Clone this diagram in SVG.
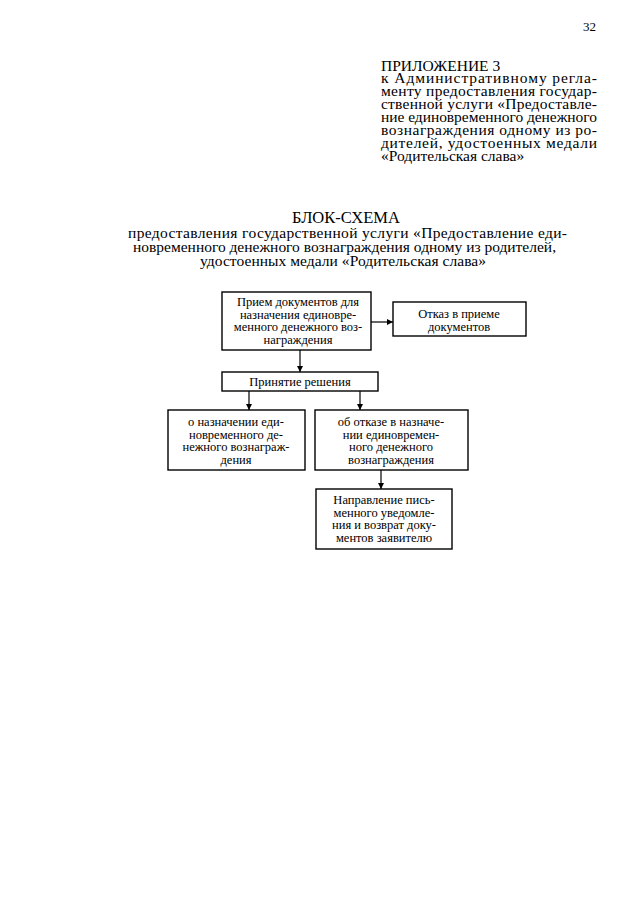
<svg xmlns="http://www.w3.org/2000/svg" width="640" height="905" viewBox="0 0 640 905">
<defs>
<marker id="ah" viewBox="0 0 10 10" refX="10" refY="5" markerWidth="6" markerHeight="6" orient="auto" markerUnits="userSpaceOnUse">
<path d="M0,0 L10,5 L0,10 z" fill="#000"/>
</marker>
<style>
text{font-family:"Liberation Serif","Times New Roman",serif;fill:#000}
.hd{font-size:15.5px}
.ttl{font-size:15.5px}
.bx{font-size:12.5px;text-anchor:middle}
.box{fill:#fff;stroke:#000;stroke-width:1.4}
.ln{stroke:#000;stroke-width:1.2;fill:none}
</style>
</defs>
<rect width="640" height="905" fill="#fff"/>
<text x="596" y="31" text-anchor="end" style="font-size:13px">32</text>
<g id="header">
<text x="381" y="71" style="font-size:15.5px">ПРИЛОЖЕНИЕ 3</text>
<text x="381" y="83" class="hd" textLength="216" lengthAdjust="spacing">к Административному регла-</text>
<text x="381" y="96" class="hd" textLength="216" lengthAdjust="spacing">менту предоставления государ-</text>
<text x="381" y="109" class="hd" textLength="216" lengthAdjust="spacing">ственной услуги «Предоставле-</text>
<text x="381" y="122" class="hd" textLength="216" lengthAdjust="spacing">ние единовременного денежного</text>
<text x="381" y="135" class="hd" textLength="216" lengthAdjust="spacing">вознаграждения одному из ро-</text>
<text x="381" y="148" class="hd" textLength="216" lengthAdjust="spacing">дителей, удостоенных медали</text>
<text x="381" y="161" class="hd">«Родительская слава»</text>
</g>
<g id="title">
<text x="346" y="223" text-anchor="middle" style="font-size:16.5px">БЛОК-СХЕМА</text>
<text x="128" y="238" class="ttl" textLength="439" lengthAdjust="spacing">предоставления государственной услуги «Предоставление еди-</text>
<text x="133" y="252" class="ttl" textLength="423" lengthAdjust="spacing">новременного денежного вознаграждения одному из родителей,</text>
<text x="200" y="266" class="ttl" textLength="286" lengthAdjust="spacing">удостоенных медали «Родительская слава»</text>
</g>
<g id="connectors">
<line class="ln" x1="371" y1="322" x2="393" y2="322" marker-end="url(#ah)"/>
<line class="ln" x1="300" y1="350" x2="300" y2="372" marker-end="url(#ah)"/>
<line class="ln" x1="249" y1="391" x2="249" y2="410" marker-end="url(#ah)"/>
<line class="ln" x1="360" y1="391" x2="360" y2="410" marker-end="url(#ah)"/>
<line class="ln" x1="381" y1="470" x2="381" y2="489" marker-end="url(#ah)"/>
</g>
<g id="n1">
<rect class="box" x="222" y="292" width="149" height="58"/>
<text class="bx" x="298" y="306">Прием документов для</text>
<text class="bx" x="298" y="318.5">назначения единовре-</text>
<text class="bx" x="298" y="331">менного денежного воз-</text>
<text class="bx" x="298" y="343.5">награждения</text>
</g>
<g id="n2">
<rect class="box" x="393" y="302" width="133" height="34"/>
<text class="bx" x="459" y="318">Отказ в приеме</text>
<text class="bx" x="459" y="330.5">документов</text>
</g>
<g id="n3">
<rect class="box" x="222" y="372" width="156" height="19"/>
<text class="bx" x="300" y="386">Принятие решения</text>
</g>
<g id="n4">
<rect class="box" x="168" y="410" width="137" height="60"/>
<text class="bx" x="236" y="426">о назначении еди-</text>
<text class="bx" x="236" y="438.5">новременного де-</text>
<text class="bx" x="236" y="451">нежного вознаграж-</text>
<text class="bx" x="236" y="463.5">дения</text>
</g>
<g id="n5">
<rect class="box" x="315" y="410" width="153" height="60"/>
<text class="bx" x="391" y="426">об отказе в назначе-</text>
<text class="bx" x="391" y="438.5">нии единовремен-</text>
<text class="bx" x="391" y="451">ного денежного</text>
<text class="bx" x="391" y="463.5">вознаграждения</text>
</g>
<g id="n6">
<rect class="box" x="316" y="489" width="136" height="60"/>
<text class="bx" x="384" y="504">Направление пись-</text>
<text class="bx" x="384" y="516.5">менного уведомле-</text>
<text class="bx" x="384" y="529">ния и возврат доку-</text>
<text class="bx" x="384" y="541.5">ментов заявителю</text>
</g>
</svg>
